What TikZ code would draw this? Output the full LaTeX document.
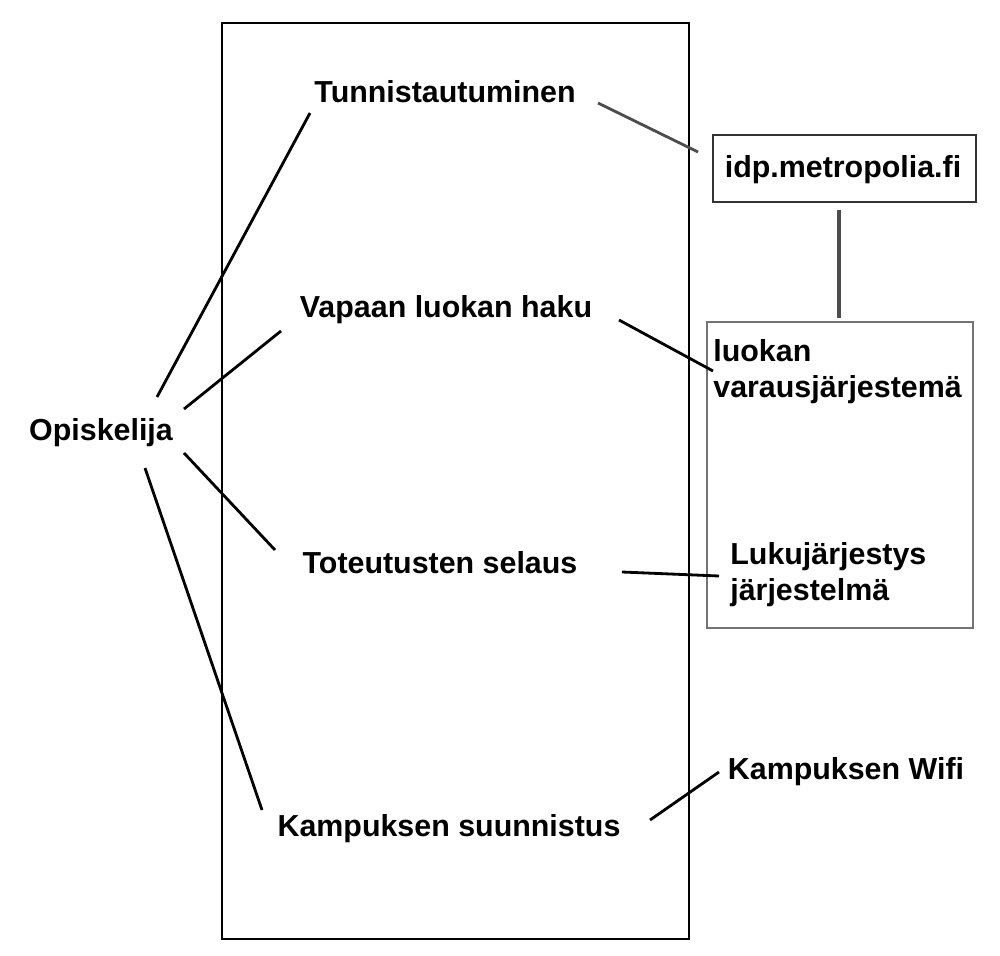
\documentclass[tikz,border=0pt]{standalone}
\usepackage{fontspec}
\setmainfont{Liberation Sans}
\begin{document}
\begin{tikzpicture}[x=0.02cm,y=-0.02cm,
  lbl/.style={font=\bfseries\fontsize{17.3pt}{20.6pt}\selectfont,inner sep=0pt},
  conn/.style={line width=1.6pt,black},
  connG/.style={line width=1.6pt,black!70},
  sysbox/.style={draw=black!55,line width=0.6pt}]
\useasboundingbox (0,0) rectangle (1000,956);
% system boundary
\draw[line width=0.8pt] (222,23) rectangle (689,939);
% external boxes
\node[draw=black!80,line width=1.1pt,minimum width=263*0.02cm,minimum height=67*0.02cm,inner sep=0pt] (idp) at (844.5,168.5) {};
\node[sysbox,minimum width=266*0.02cm,minimum height=306*0.02cm,inner sep=0pt] (sys) at (840,475) {};
% texts
\node[lbl] (tun) at (445,92) {Tunnistautuminen};
\node[lbl] (vap) at (446,310) {Vapaan luokan haku};
\node[lbl] (tot) at (440,563) {Toteutusten selaus};
\node[lbl] (kam) at (449,829) {Kampuksen suunnistus};
\node[lbl] (opi) at (101,433) {Opiskelija};
\node[lbl] (idpt) at (843,170) {idp.metropolia.fi};
\node[lbl,align=left,anchor=north west] (luo) at (713,339) {luokan\\varausjärjestemä};
\node[lbl,align=left,anchor=north west] (luk) at (730,542) {Lukujärjestys\\järjestelmä};
\node[lbl] (wifi) at (846,772) {Kampuksen Wifi};
% connector end points
\coordinate (o1) at (157,397); \coordinate (t1) at (310,113);
\coordinate (o2) at (184,409); \coordinate (v1) at (281,331);
\coordinate (o3) at (184,453); \coordinate (s1) at (275,550);
\coordinate (o4) at (145,468); \coordinate (k1) at (262,810);
\coordinate (t2) at (598,103); \coordinate (i1) at (698,152);
\coordinate (i2) at (839,210); \coordinate (l0) at (839,318);
\coordinate (v2) at (619,320); \coordinate (l1) at (713,371);
\coordinate (s2) at (622,572); \coordinate (l2) at (719,576);
\coordinate (k2) at (650,820); \coordinate (w1) at (719,772);
% connectors
\draw[conn] (o1) -- (t1);
\draw[conn] (o2) -- (v1);
\draw[conn] (o3) -- (s1);
\draw[conn] (o4) -- (k1);
\draw[connG] (t2) -- (i1);
\draw[connG,line width=2pt] (i2) -- (l0);
\draw[conn] (v2) -- (l1);
\draw[conn] (s2) -- (l2);
\draw[conn] (k2) -- (w1);
\end{tikzpicture}
\end{document}
